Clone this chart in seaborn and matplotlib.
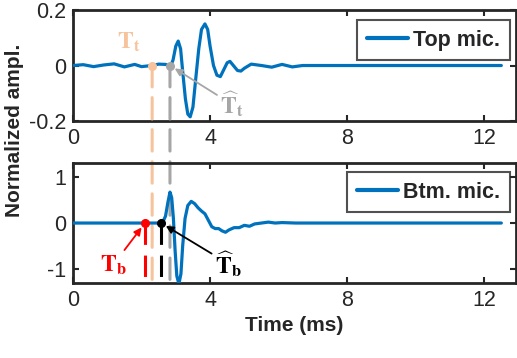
import numpy as np
import pandas as pd
import matplotlib
matplotlib.use("Agg")
import matplotlib.pyplot as plt
import seaborn as sns
from matplotlib.patches import ConnectionPatch

# ---------------- data ----------------
top_t = [0.0, 0.3, 0.6, 0.9, 1.2, 1.5, 1.8, 2.0, 2.3, 2.5, 2.7, 2.8,
         2.85, 2.92, 3.0, 3.07, 3.14, 3.2, 3.28, 3.35, 3.42, 3.5, 3.58,
         3.67, 3.75, 3.85, 3.93, 4.0, 4.1, 4.2, 4.3, 4.4, 4.5, 4.58, 4.68,
         4.8, 4.9, 5.0, 5.2, 5.5, 5.8, 6.1, 6.4, 6.7, 7.5, 12.5]
top_v = [0.0, 0.003, -0.004, 0.002, 0.006, -0.005, 0.004, -0.004, 0.0, 0.005, 0.004, 0.0,
         -0.002, 0.02, 0.07, 0.088, 0.06, -0.02, -0.12, -0.175, -0.185, -0.15, -0.05,
         0.06, 0.13, 0.15, 0.13, 0.07, 0.0, -0.035, -0.04, -0.015, 0.01, 0.015, 0.0,
         -0.018, -0.02, -0.01, 0.005, 0.0, -0.006, 0.004, -0.005, 0.0, 0.0, 0.0]

btm_t = [0.0, 1.0, 2.0, 2.55, 2.62, 2.7, 2.77, 2.83, 2.88, 2.93, 2.98, 3.03, 3.09,
         3.15, 3.2, 3.27, 3.35, 3.45, 3.55, 3.65, 3.75, 3.85, 3.95, 4.05, 4.15,
         4.25, 4.35, 4.45, 4.55, 4.7, 4.85, 5.0, 5.15, 5.3, 5.5, 5.7, 5.9, 6.1,
         6.5, 12.5]
btm_v = [0.0, 0.0, 0.0, 0.0, 0.02, 0.15, 0.45, 0.67, 0.55, 0.1, -0.6, -1.15, -1.32,
         -1.1, -0.5, 0.1, 0.38, 0.47, 0.42, 0.33, 0.26, 0.2, 0.06, -0.08, -0.12,
         -0.12, -0.17, -0.2, -0.15, -0.1, -0.1, -0.05, -0.07, -0.02, 0.0, 0.02, 0.0, 0.01,
         0.0, 0.0]

# event times (ms)
T_t = 2.31      # true top arrival
T_t_hat = 2.83  # estimated top arrival
T_b = 2.10      # true bottom arrival
T_b_hat = 2.57  # estimated bottom arrival

x_ticks = [0, 4, 8, 12]
top_yticks = [-0.2, 0, 0.2]
btm_yticks = [-1, 0, 1]

# ---------------- style ----------------
sns.set_theme(style="white")
plt.rcParams['font.family'] = ['Liberation Sans', 'DejaVu Sans']
plt.rcParams['mathtext.fontset'] = 'stix'

BLUE = '#0072BD'
PEACH = '#F7C39C'
GRAY = '#A6A6A6'
RED = '#FF0000'
BLACK = '#000000'
AXC = '#262626'

fig = plt.figure(figsize=(5.17, 3.58), dpi=100)
fig.patch.set_facecolor('white')
ax1 = fig.add_axes([0.1412, 0.662, 0.857, 0.310])
ax2 = fig.add_axes([0.1412, 0.2095, 0.857, 0.335])

df_top = pd.DataFrame({'t': top_t, 'v': top_v, 's': 'Top mic.'})
df_btm = pd.DataFrame({'t': btm_t, 'v': btm_v, 's': 'Btm. mic.'})

sns.lineplot(data=df_top, x='t', y='v', hue='s', palette=[BLUE], lw=2.3,
             ax=ax1, zorder=3, sort=False)
sns.lineplot(data=df_btm, x='t', y='v', hue='s', palette=[BLUE], lw=2.3,
             ax=ax2, zorder=3, sort=False)

ax1.set_ylim(-0.2, 0.2)
ax2.set_ylim(-1.3, 1.3)
for ax, yt, anchor in ((ax1, top_yticks, (0.9865, 0.91)),
                       (ax2, btm_yticks, (0.9865, 0.925))):
    ax.set_facecolor('none')
    ax.set_xlim(0, 12.93)
    ax.set_xticks(x_ticks)
    ax.set_xticklabels([str(v) for v in x_ticks])
    ax.set_yticks(yt)
    ax.set_yticklabels([('%g' % v) for v in yt])
    ax.tick_params(direction='in', length=4, width=1.5, colors=AXC,
                   labelsize=15.5, top=True, right=True, bottom=True, left=True,
                   pad=5)
    for tl in ax.get_xticklabels() + ax.get_yticklabels():
        tl.set_color('#262626')
    for sp in ax.spines.values():
        sp.set_visible(True)
        sp.set_color(AXC)
        sp.set_linewidth(2.0)
    ax.set_xlabel('')
    ax.set_ylabel('')
    leg = ax.legend(loc='upper right', bbox_to_anchor=anchor, fontsize=15.5,
                    frameon=True, fancybox=False,
                    handlelength=1.9, handletextpad=0.25, borderpad=0.45,
                    borderaxespad=0.0)
    leg.get_frame().set_edgecolor(AXC)
    leg.get_frame().set_linewidth(1.5)
    for txt in leg.get_texts():
        txt.set_fontweight('bold')
    for h in leg.get_lines():
        h.set_linewidth(3)

ax2.set_xlabel('Time (ms)', fontsize=15, fontweight='bold', color=AXC, labelpad=4)
fig.text(15 / 517, 1 - 130 / 358, 'Normalized ampl.', rotation=90, ha='center',
         va='center', fontsize=15, fontweight='bold', color=AXC)

dash = (0, (7, 3.5))
# dashed vertical lines spanning both axes
for t, c in ((T_t, PEACH), (T_t_hat, GRAY)):
    con = ConnectionPatch(xyA=(t, 0), coordsA=ax1.transData,
                          xyB=(t, -1.3), coordsB=ax2.transData,
                          color=c, lw=2.2, linestyle=dash, zorder=1)
    con.set_clip_on(False)
    ax2.add_artist(con)
for t, c in ((T_b, RED), (T_b_hat, BLACK)):
    ax2.plot([t, t], [0, -1.3], color=c, lw=2.2, linestyle=dash, zorder=4,
             clip_on=False)
    ax2.plot([t], [0], 'o', color=c, ms=5.5, zorder=5, clip_on=False)
for t, c in ((T_t, PEACH), (T_t_hat, GRAY)):
    ax1.plot([t], [0], 'o', color=c, ms=5.5, zorder=5, clip_on=False)

# labels
ax1.text(1.64, 0.083, r'$\mathbf{T_t}$', color=PEACH, fontsize=17,
         ha='center', va='center')
ax1.annotate(r'$\widehat{\mathbf{T}}_\mathbf{t}$', xy=(T_t_hat, 0), xytext=(4.64, -0.14),
             color=GRAY, fontsize=17, ha='center', va='center',
             arrowprops=dict(arrowstyle='-|>', color=GRAY, lw=1.3,
                             shrinkA=0, shrinkB=4, mutation_scale=11))
ax2.annotate(r'$\mathbf{T_b}$', xy=(T_b, 0), xytext=(1.17, -0.91),
             color=RED, fontsize=17, ha='center', va='center',
             arrowprops=dict(arrowstyle='-|>', color=RED, lw=1.3,
                             shrinkA=0, shrinkB=4, mutation_scale=11))
ax2.annotate(r'$\widehat{\mathbf{T}}_\mathbf{b}$', xy=(T_b_hat, 0), xytext=(4.53, -0.88),
             color=BLACK, fontsize=17, ha='center', va='center',
             arrowprops=dict(arrowstyle='-|>', color=BLACK, lw=1.3,
                             shrinkA=0, shrinkB=4, mutation_scale=11))

fig.savefig('out.png', dpi=100, facecolor='white')
